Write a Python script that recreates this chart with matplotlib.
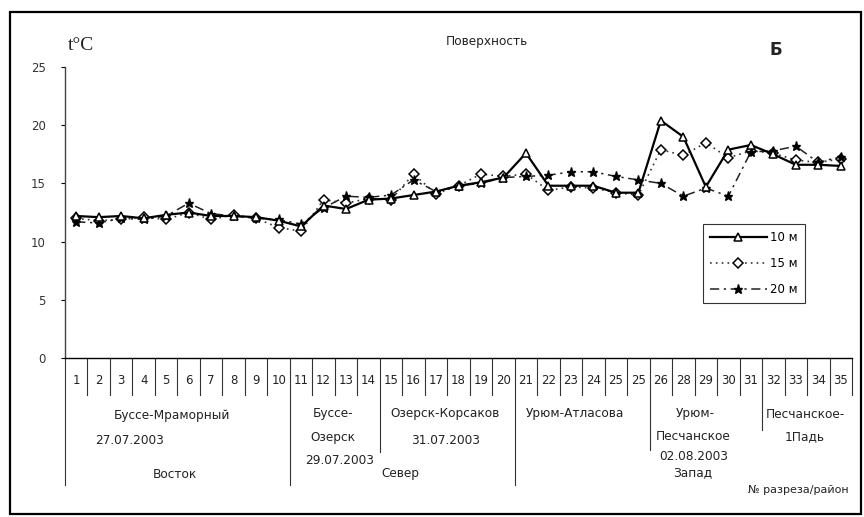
import matplotlib
matplotlib.use("Agg")
import matplotlib.pyplot as plt
from matplotlib.patches import Rectangle
import matplotlib.transforms as mtransforms

plt.rcParams['font.family'] = ['DejaVu Sans']

# ---- data ----
section_labels = ["1", "2", "3", "4", "5", "6", "7", "8", "9", "10",
                  "11", "12", "13", "14", "15", "16", "17", "18", "19", "20",
                  "21", "22", "23", "24", "25", "25", "26", "28", "29", "30",
                  "31", "32", "33", "34", "35"]
t_10m = [12.2, 12.1, 12.2, 12.0, 12.3, 12.5, 12.2, 12.2, 12.1, 11.8,
         11.3, 13.1, 12.8, 13.6, 13.7, 14.0, 14.3, 14.8, 15.1, 15.5,
         17.6, 14.8, 14.8, 14.8, 14.2, 14.2, 20.4, 19.0, 14.7, 17.9,
         18.3, 17.5, 16.6, 16.6, 16.5]
t_15m = [12.0, 11.8, 11.9, 12.1, 11.9, 12.5, 11.9, 12.3, 12.0, 11.2,
         10.9, 13.6, 13.3, 13.7, 13.6, 15.8, 14.1, 14.8, 15.8, 15.6,
         15.8, 14.4, 14.7, 14.6, 14.2, 14.0, 17.9, 17.4, 18.5, 17.2,
         17.8, 17.6, 17.0, 16.8, 17.1]
t_20m = [11.7, 11.6, 12.0, 11.9, 12.2, 13.3, 12.4, 12.2, 12.0, 11.9,
         11.5, 12.9, 13.9, 13.8, 14.0, 15.3, 14.3, 14.8, 15.0, 15.5,
         15.6, 15.7, 16.0, 16.0, 15.6, 15.3, 15.0, 13.9, 14.6, 13.9,
         17.7, 17.8, 18.2, 16.8, 17.3]
series_names = ["10 м", "15 м", "20 м"]
y_ticks = [0, 5, 10, 15, 20, 25]

# ---- figure ----
W, H = 864, 517
fig = plt.figure(figsize=(W / 100, H / 100), dpi=100)
fig.patch.set_facecolor('white')

def fx(px):
    return px / W

def fy(py):
    return 1 - py / H

ax_left, ax_right, ax_top, ax_bot = 65, 852, 67, 358
ax = fig.add_axes([fx(ax_left), fy(ax_bot), (ax_right - ax_left) / W, (ax_bot - ax_top) / H])
n = len(section_labels)
x = list(range(1, n + 1))

ax.plot(x, t_10m, color='black', lw=1.6, ls='-', marker='^', ms=6,
        mfc='white', mec='black', mew=1.1, label=series_names[0], zorder=4)
ax.plot(x, t_15m, color='#333333', lw=1.2, ls=(0, (1, 2.5)), marker='D', ms=5,
        mfc='white', mec='black', mew=1.1, label=series_names[1], zorder=3)
ax.plot(x, t_20m, color='#222222', lw=1.1, ls=(0, (6, 3, 1.5, 3)), marker='*', ms=6.5,
        mfc='black', mec='black', label=series_names[2], zorder=3)

ax.set_xlim(0.5, n + 0.5)
ax.set_ylim(0, 25)
ax.set_yticks(y_ticks)
ax.set_yticklabels([str(v) for v in y_ticks], fontsize=8.5, color='#333333')
ax.tick_params(axis='y', length=3, width=0.8, pad=11)
ax.set_xticks([])
for s in ['top', 'right']:
    ax.spines[s].set_visible(False)
ax.spines['left'].set_linewidth(1.0)
ax.spines['left'].set_color('#444444')
ax.spines['bottom'].set_linewidth(1.0)

leg = ax.legend(loc='upper left', bbox_to_anchor=((697 - ax_left) / (ax_right - ax_left),
                                                   (ax_bot - 218) / (ax_bot - ax_top)),
                fontsize=8.5, frameon=True, fancybox=False, edgecolor='black',
                handlelength=4.8, borderpad=0.6, labelspacing=1.1, handletextpad=0.3)
leg.get_frame().set_linewidth(0.8)

# ---- category row and separators ----
trans = mtransforms.blended_transform_factory(ax.transData, ax.transAxes)
def ay(py):
    return (ax_bot - py) / (ax_bot - ax_top)

for i, lab in enumerate(section_labels, start=1):
    ax.text(i, ay(381), lab, transform=trans, ha='center', va='center',
            fontsize=8.5, color='#222222', clip_on=False)

long_seps = {0.5: 485, 10.5: 485, 14.5: 452, 20.5: 485, 26.5: 450, 31.5: 430}
for b in range(0, n + 1):
    xb = b + 0.5
    yend = long_seps.get(xb, 395)
    ax.plot([xb, xb], [0, ay(yend)], transform=trans, color='#333333',
            lw=0.8, clip_on=False)

# ---- group labels ----
group_texts = [
    ("Буссе-Мраморный", 172, 416), ("27.07.2003", 130, 441), ("Восток", 175, 474),
    ("Буссе-", 333, 414), ("Озерск", 333, 437), ("29.07.2003", 340, 460), ("Север", 400, 474),
    ("Озерск-Корсаков", 445, 414), ("31.07.2003", 446, 441),
    ("Урюм-Атласова", 575, 414),
    ("Урюм-", 695, 414), ("Песчанское", 693, 437), ("02.08.2003", 694, 457), ("Запад", 693, 473),
    ("Песчанское-", 805, 414), ("1Падь", 805, 437),
]
for txt, px, py in group_texts:
    fig.text(fx(px), fy(py), txt, ha='center', va='center', fontsize=8.7, color='#222222')

fig.text(fx(798), fy(490), "№ разреза/район", ha='center', va='center', fontsize=8, color='#222222')

# ---- titles ----
fig.text(fx(68), fy(45), "t°C", ha='left', va='center', fontsize=14,
         family=['Liberation Serif', 'DejaVu Serif'], color='#222222')
fig.text(fx(487), fy(42), "Поверхность", ha='center', va='center', fontsize=8.7, color='#222222')
fig.text(fx(776), fy(50), "Б", ha='center', va='center', fontsize=12, fontweight='bold', color='#222222')

# outer frame
fig.patches.append(Rectangle((fx(10), fy(514)), (861 - 10) / W, (514 - 12) / H,
                             transform=fig.transFigure, fill=False, lw=1.6,
                             edgecolor='black'))

fig.savefig("out.png", dpi=100)
